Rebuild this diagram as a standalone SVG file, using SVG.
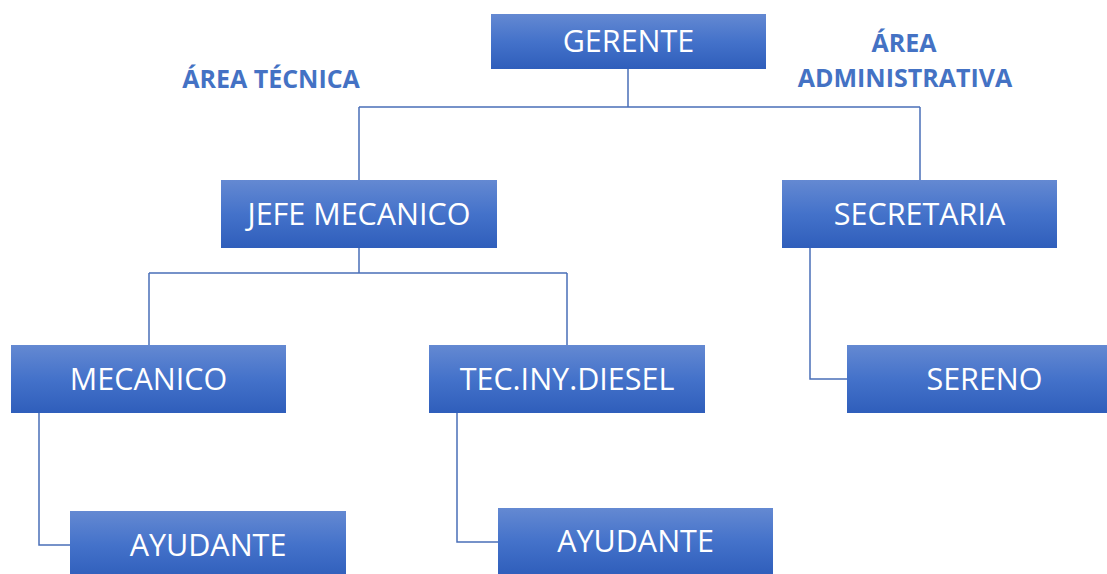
<svg xmlns="http://www.w3.org/2000/svg" width="1107" height="574" viewBox="0 0 1107 574">
<defs>
<linearGradient id="g" x1="0" y1="0" x2="0" y2="1">
<stop offset="0" stop-color="#6489D2"/>
<stop offset="0.5" stop-color="#4472CA"/>
<stop offset="1" stop-color="#2F5EBB"/>
</linearGradient>
</defs>
<style>
.box{fill:url(#g);}
.t{fill:#fff;font-family:"Open Sans","Noto Sans",sans-serif;font-size:30.5px;text-anchor:middle;}
.lbl{fill:#4472C4;font-family:"Open Sans","Noto Sans",sans-serif;font-size:25px;font-weight:bold;text-anchor:middle;}
.c{fill:none;stroke:#4A6FB8;stroke-width:1.5;}
</style>
<rect width="1107" height="574" fill="#fff"/>
<g id="connectors">
<path class="c" d="M628,69 V107 M359,107 H920 M359,107 V180 M920,107 V180"/>
<path class="c" d="M359,248 V273 M149,273 H567 M149,273 V345 M567,273 V345"/>
<path class="c" d="M39,413 V545 H70"/>
<path class="c" d="M457,413 V542 H498"/>
<path class="c" d="M810,248 V379 H847"/>
</g>
<g id="label-tecnica"><text class="lbl" x="271" y="88">ÁREA TÉCNICA</text></g>
<g id="label-administrativa"><text class="lbl" x="904" y="52">ÁREA</text><text class="lbl" x="905" y="87">ADMINISTRATIVA</text></g>
<g id="gerente"><rect class="box" x="491" y="14" width="275" height="55"/><text class="t" x="628.5" y="52">GERENTE</text></g>
<g id="jefe-mecanico"><rect class="box" x="221" y="180" width="276" height="68"/><text class="t" x="359" y="224.5">JEFE MECANICO</text></g>
<g id="secretaria"><rect class="box" x="782" y="180" width="275" height="68"/><text class="t" x="919.5" y="224.5">SECRETARIA</text></g>
<g id="mecanico"><rect class="box" x="11" y="345" width="275" height="68"/><text class="t" x="148.5" y="389.5">MECANICO</text></g>
<g id="tec-iny-diesel"><rect class="box" x="429" y="345" width="276" height="68"/><text class="t" x="567" y="389.5">TEC.INY.DIESEL</text></g>
<g id="sereno"><rect class="box" x="847" y="345" width="275" height="68"/><text class="t" x="984.5" y="389.5">SERENO</text></g>
<g id="ayudante-1"><rect class="box" x="70" y="511" width="276" height="68"/><text class="t" x="208" y="555.5">AYUDANTE</text></g>
<g id="ayudante-2"><rect class="box" x="498" y="508" width="275" height="67"/><text class="t" x="635.5" y="552">AYUDANTE</text></g>
</svg>
